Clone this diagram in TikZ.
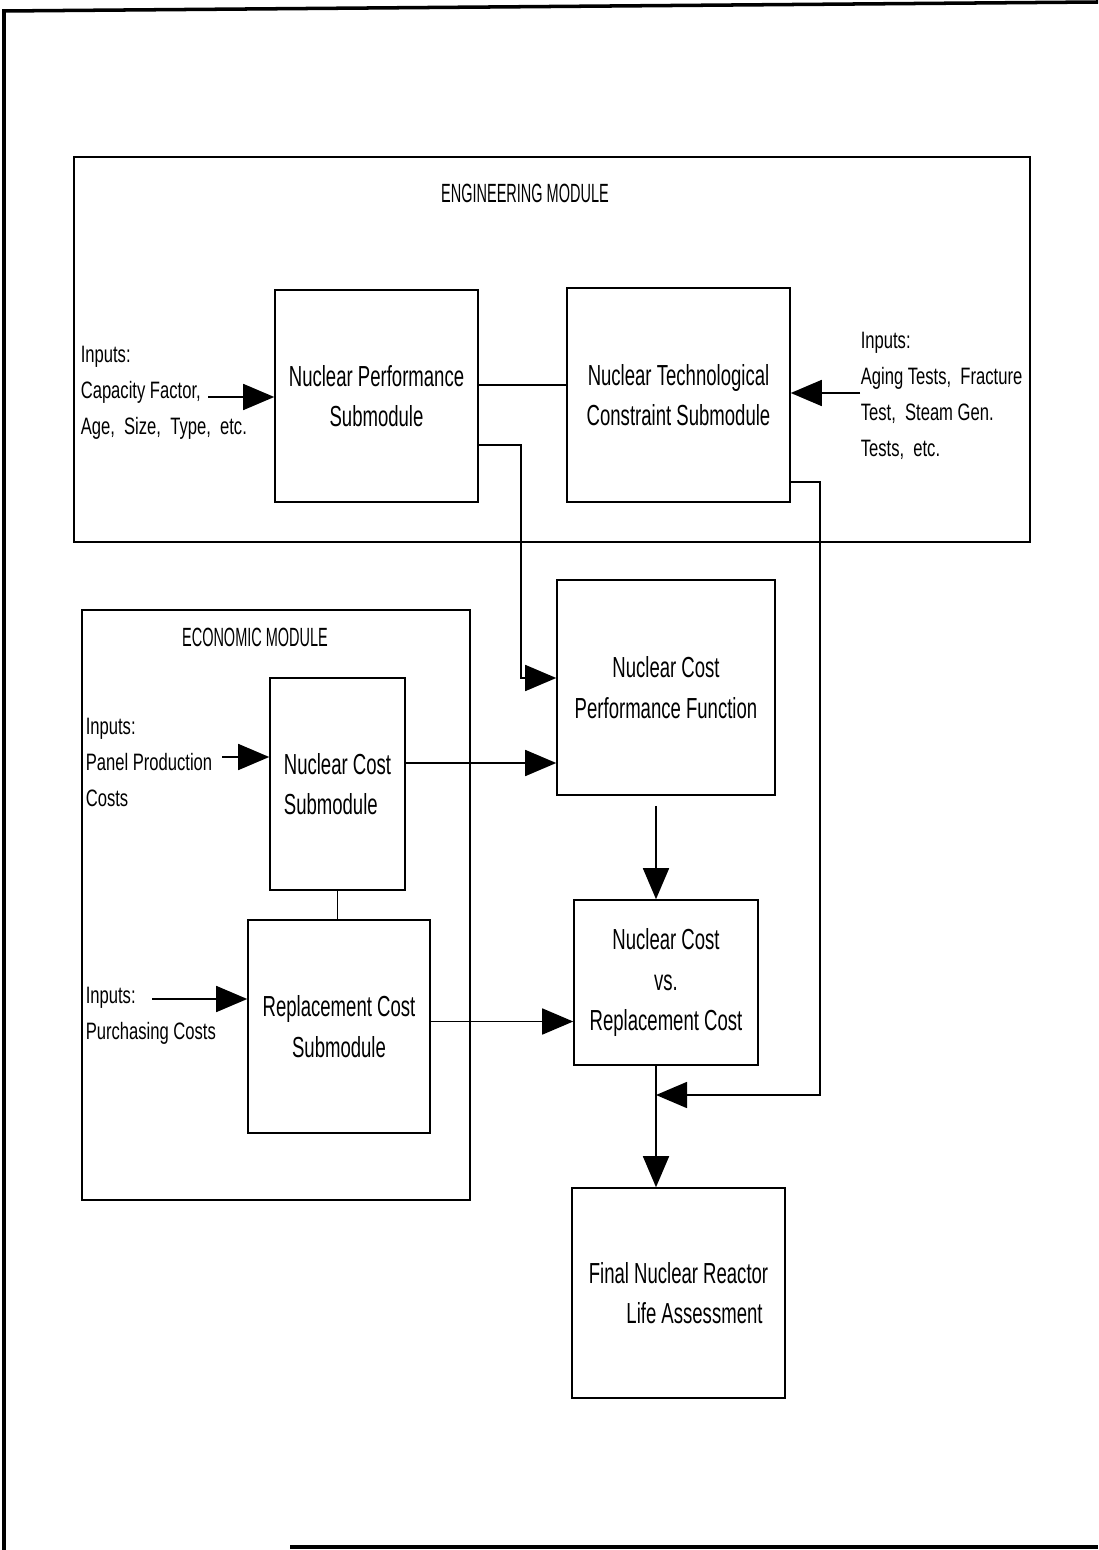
\documentclass[tikz,border=0pt]{standalone}
\usepackage{fontspec}
\setmainfont{Liberation Sans}[FakeStretch=0.7]
\newfontfamily\boxfont{Liberation Sans}[FakeStretch=0.64]
\newfontfamily\capsfont{Liberation Sans}[FakeStretch=0.55]
\usetikzlibrary{arrows.meta}
\tikzset{>={Triangle[length=0.62cm,width=0.52cm]}}
\tikzset{
    sub/.style={draw, align=center, font=\boxfont\fontsize{16.5}{23}\selectfont},
    inp/.style={align=left, anchor=west, inner sep=0pt, font=\fontsize{13.5}{20.5}\selectfont},
    modtitle/.style={font=\capsfont\fontsize{15}{18}\selectfont}
}

\begin{document}
\begin{tikzpicture}[x=0.02cm, y=-0.02cm, line width=0.9pt]
    \useasboundingbox (0,0) rectangle (1098,1550);
    \draw[line width=2pt] (4,1550) -- (4,11) -- (1098,2);
    \draw[line width=2pt] (290,1547) -- (1098,1547);
    \draw (74,157) rectangle (1030,542);
    \draw (82,610) rectangle (470,1200);
    \node[modtitle] (engtitle) at (525,193) {ENGINEERING MODULE};
    \node[modtitle] (ecotitle) at (255,637) {ECONOMIC MODULE};
    \node[sub, minimum width=4.06cm, minimum height=4.24cm] (nps) at (376.5,396) {Nuclear Performance\\Submodule};
    \node[sub, minimum width=4.46cm, minimum height=4.28cm] (ntcs) at (678.5,395) {Nuclear Technological\\Constraint Submodule};
    \node[sub, minimum width=4.36cm, minimum height=4.3cm] (ncpf) at (666,687.5) {Nuclear Cost\\Performance Function};
    \node[sub, minimum width=3.68cm, minimum height=3.3cm] (ncvr) at (666,982.5) {Nuclear Cost\\vs.\\Replacement Cost};
    \node[sub, minimum width=4.26cm, minimum height=4.2cm] (final) at (678.5,1293) {Final Nuclear Reactor\\\hspace*{0.64cm}Life Assessment};
    \node[sub, align=left, minimum width=2.7cm, minimum height=4.24cm] (ncs) at (337.5,784) {Nuclear Cost\\Submodule};
    \node[sub, minimum width=3.64cm, minimum height=4.26cm] (rcs) at (339,1026.5) {Replacement Cost\\Submodule};
    \node[inp] (inperf) at (80,393) {Inputs:\\Capacity Factor,\\Age,\ \ Size,\ \ Type,\ \ etc.};
    \node[inp] (intech) at (860,396) {Inputs:\\Aging Tests,\ \ Fracture\\Test,\ \ Steam Gen.\\Tests,\ \ etc.};
    \node[inp] (inpanel) at (85,762) {Inputs:\\Panel Production\\Costs};
    \node[inp] (inbuy) at (85,1016) {Inputs:\\Purchasing Costs};
    \coordinate (inA) at (208,397);
    \coordinate (inB) at (860,393);
    \coordinate (inC) at (222,757);
    \coordinate (inD) at (152,999);
    \coordinate (bendA) at (521,678);
    \coordinate (bendB) at (820,1095);
    \coordinate (mid) at (656,0);
    \draw[->] (inA) -- (inA -| nps.west);
    \draw[->] (inB) -- (inB -| ntcs.east);
    \draw[->] (inC) -- (inC -| ncs.west);
    \draw[->] (inD) -- (inD -| rcs.west);
    \draw ([yshift=0.22cm]nps.east) -- ([yshift=0.22cm]nps.east -| ntcs.west);
    \draw[->] ([yshift=-0.98cm]nps.east) -| (bendA) -- (bendA -| ncpf.west);
    \draw[->] ([yshift=-1.74cm]ntcs.east) -| (bendB) -- (bendB -| mid);
    \path ([yshift=0.42cm]ncs.east) coordinate (outA);
    \draw[->] (outA) -- (outA -| ncpf.west);
    \path ([yshift=0.1cm]rcs.east) coordinate (outB);
    \draw[->] (outB) -- (outB -| ncvr.west);
    \draw (ncs.south) -- (ncs.south |- rcs.north);
    \draw[->] ([yshift=-0.2cm]ncpf.south -| mid) -- (ncvr.north -| mid);
    \draw[->] (ncvr.south -| mid) -- (final.north -| mid);
\end{tikzpicture}
\end{document}
